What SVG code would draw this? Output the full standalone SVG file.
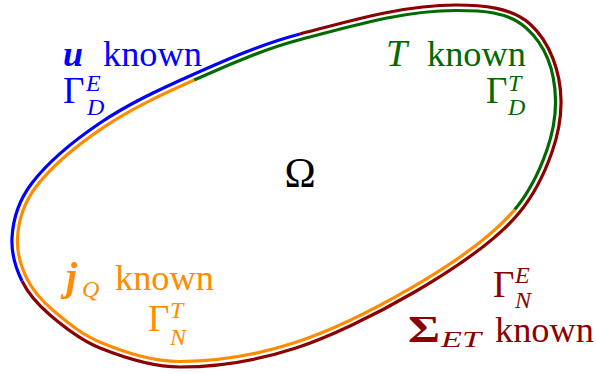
<svg xmlns="http://www.w3.org/2000/svg" width="596" height="374" viewBox="0 0 596 374" font-family="'Liberation Serif', 'DejaVu Serif', serif">
<style>
.seg{fill:none;stroke-width:3.2;stroke-linecap:butt}
text{font-family:'Liberation Serif','DejaVu Serif',serif;font-size:36px}
.it{font-style:italic}
.bi{font-style:italic;font-weight:bold}
.sc{font-size:24px;font-style:italic}
.gam{font-size:37px}
.cb{fill:#0000ff}
.cg{fill:#006a00}
.co{fill:#ff8c00}
.cr{fill:#8b0000}
</style>
<rect width="596" height="374" fill="#ffffff"/>
<g id="boundary">
<path id="gamma-D-E" class="seg" stroke="#0000ff" d="M22,281 C15.5,267.8 11.3,252.7 12,238 C13,218.5 20.1,198.5 32,183 C50.4,159 75,139.9 100,123 C128.7,103.6 160.4,89.1 192,75 C227.2,59.3 262.8,43.7 300,34"/>
<path id="gamma-N-E" class="seg" stroke="#8b0000" d="M300,34 C351.1,20.6 403.2,5 456,5 C481.4,5 511.1,7.1 530,24 C550.4,42.3 560.5,72.6 561,100 C561.4,117.6 557.8,135.4 552,152 C544.4,173.8 533.8,195.2 519,213 C477.4,263 357.8,328 296,348 C258.7,360.1 219.2,367 180,367 C152.6,367 125.4,358.2 100,348 C81.4,340.6 65.2,328 50,315 C38.8,305.4 28.5,294.2 22,281"/>
<path id="gamma-N-T" class="seg" stroke="#ff8c00" d="M514.8,209.5 C473.2,259.5 356.1,322.8 294.3,342.8 C257,354.9 219.2,361.5 180,361.5 C152.6,361.5 127.4,353.1 102,342.9 C83.4,335.5 68.8,323.8 53.6,310.8 C42.4,301.2 33.4,291.8 26.9,278.6 C20.4,265.4 16.8,253 17.5,238.3 C18.5,218.8 24.5,201.8 36.4,186.3 C54.8,162.3 78.1,144.5 103.1,127.6 C131.8,108.2 162.6,94.1 194.2,80"/>
<path id="gamma-D-T" class="seg" stroke="#006a00" d="M194.2,80 C229.4,64.3 264.2,49 301.4,39.3 C352.5,25.9 403.2,10.5 456,10.5 C481.4,10.5 507.4,11.2 526.3,28.1 C546.7,46.4 555,72.7 555.5,100.1 C555.9,117.7 552.6,133.6 546.8,150.2 C539.2,172 529.6,191.7 514.8,209.5"/>
</g>
<g id="omega">
<text x="300" y="187" text-anchor="middle" style="font-size:42px">Ω</text>
</g>
<g id="label-u" class="cb">
<text x="63" y="66" class="bi">u</text>
<text x="103" y="66" textLength="99" lengthAdjust="spacingAndGlyphs">known</text>
<text x="63" y="103" class="gam">Γ</text>
<text x="86" y="91" class="sc">E</text>
<text x="87" y="115" class="sc">D</text>
</g>
<g id="label-T" class="cg">
<text x="386" y="66" class="it" style="font-size:38px">T</text>
<text x="427" y="66" textLength="99" lengthAdjust="spacingAndGlyphs">known</text>
<text x="486" y="103" class="gam">Γ</text>
<text x="508" y="91" class="sc">T</text>
<text x="508" y="115" class="sc">D</text>
</g>
<g id="label-j" class="co">
<text x="66" y="290" class="bi" style="font-size:40px">j</text>
<text x="82" y="297" class="sc">Q</text>
<text x="115" y="290" textLength="99" lengthAdjust="spacingAndGlyphs">known</text>
<text x="148" y="331" class="gam">Γ</text>
<text x="170" y="318" class="sc">T</text>
<text x="170" y="345" class="sc">N</text>
</g>
<g id="label-sigma" class="cr">
<text x="493" y="297" class="gam">Γ</text>
<text x="515" y="283" class="sc">E</text>
<text x="515" y="308" class="sc">N</text>
<text x="408" y="342" style="font-size:38px;font-weight:bold" textLength="32" lengthAdjust="spacingAndGlyphs">Σ</text>
<text x="441" y="347" class="sc" textLength="40" lengthAdjust="spacingAndGlyphs">ET</text>
<text x="495" y="342" textLength="99" lengthAdjust="spacingAndGlyphs">known</text>
</g>
</svg>
